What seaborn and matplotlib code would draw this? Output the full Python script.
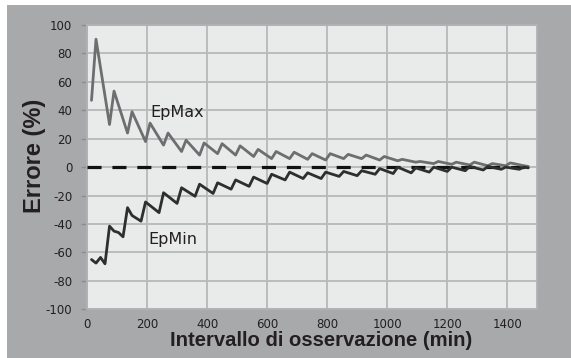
import matplotlib
matplotlib.use("Agg")
import matplotlib.pyplot as plt
from matplotlib import font_manager
from matplotlib.patches import Rectangle
import numpy as np
import pandas as pd
import seaborn as sns

# Observation interval (min) and percentage error of the upper estimate
epmax_x = [15, 30, 75, 90, 135, 150, 195, 210, 255, 270, 315, 330, 375, 390,
           435, 450, 495, 510, 555, 570, 615, 630, 675, 690, 735, 750, 795, 810,
           855, 870, 915, 930, 975, 990, 1035, 1050, 1095, 1110, 1155, 1170,
           1215, 1230, 1275, 1290, 1335, 1350, 1395, 1410, 1455, 1470]
epmax_y = [47, 90, 30, 53.5, 24, 39, 18, 31, 15.5, 24, 11, 19, 8.5, 17,
           9.5, 16.5, 8.5, 15, 7.5, 12.5, 6, 11, 6, 10.5, 5.5, 9.5, 5, 9.5,
           6, 9, 6, 8.5, 5, 7.5, 4.5, 5.5, 3.5, 4, 2.5, 4,
           2, 3.5, 1.5, 3.5, 1, 2.5, 1, 3, 1, 0.5]

# Percentage error of the lower estimate
epmin_x = [15, 30, 45, 60, 75, 90, 105, 120, 135, 150, 180, 195, 240, 255,
           300, 315, 360, 375, 420, 435, 480, 495, 540, 555, 600, 615, 660, 675,
           720, 735, 780, 795, 840, 855, 900, 915, 960, 975, 1020, 1035, 1080,
           1095, 1140, 1155, 1200, 1215, 1260, 1275, 1320, 1335, 1380, 1395,
           1440, 1455, 1470]
epmin_y = [-65, -67.5, -63.5, -68, -41.5, -45, -46, -49, -28.5, -34, -38, -24.5,
           -32, -18, -25.5, -14.5, -20.5, -12, -18.5, -11, -15.5, -9, -13.5, -7,
           -11.5, -5, -9, -3.5, -8, -4, -8, -3.5, -6.5, -3, -6, -2.5, -5, -1,
           -4.5, 0, -4, -0.5, -3.5, 0, -3, 0, -2.5, 0.5, -2, 0.5, -1.5, 0,
           -1.5, 0, -0.5]

# Zero reference line
zero_x = [0, 1470]
zero_y = [0, 0]

x_ticks = [0, 200, 400, 600, 800, 1000, 1200, 1400]
y_ticks = [-100, -80, -60, -40, -20, 0, 20, 40, 60, 80, 100]

sns.set_theme(style="white")

installed = {f.name for f in font_manager.fontManager.ttflist}
label_family = "Liberation Sans Narrow" if "Liberation Sans Narrow" in installed else "Liberation Sans"
plt.rcParams["font.family"] = ["DejaVu Sans"]
plt.rcParams["axes.unicode_minus"] = False

W, H = 571, 358
fig = plt.figure(figsize=(W / 100, H / 100), dpi=100, facecolor="white")
fig.patches.append(Rectangle((7 / W, 0), 1 - 7 / W, 1 - 5 / H, transform=fig.transFigure,
                             facecolor="#a7a9ab", edgecolor="none", zorder=-10))

ax = fig.add_axes([87 / W, 1 - 309.3 / H, (537.3 - 87) / W, (309.3 - 25) / H])
ax.set_facecolor("#e9eaea")

df = pd.concat([
    pd.DataFrame({"x": epmax_x, "y": epmax_y, "serie": "EpMax"}),
    pd.DataFrame({"x": epmin_x, "y": epmin_y, "serie": "EpMin"}),
])

sns.lineplot(data=pd.DataFrame({"x": zero_x, "y": zero_y}), x="x", y="y", ax=ax,
             color="#111111", lw=2.3, zorder=3, ls=(0, (4.4, 3.4)))
sns.lineplot(data=df, x="x", y="y", hue="serie", palette={"EpMax": "#6d6e70", "EpMin": "#2e2e2f"},
             ax=ax, lw=2.0, legend=False, zorder=4, estimator=None, sort=False)

ax.set_xlim(0, 1500)
ax.set_ylim(-100, 100)
ax.set_xticks(x_ticks)
ax.set_yticks(y_ticks)
ax.grid(True, color="#b6b8b9", lw=1.3)
ax.set_axisbelow(True)
for s in ax.spines.values():
    s.set_color("#b0b2b3")
    s.set_linewidth(1.3)

ax.tick_params(axis="y", length=4, width=1, color="#8c8e90", pad=6.5,
               labelsize=8.5, labelcolor="#231f20", left=True)
ax.tick_params(axis="x", length=0, pad=6.5, labelsize=8.5, labelcolor="#231f20")
ax.set_xlabel("")
ax.set_ylabel("")

ax.text(210, 38.7, "EpMax", fontsize=11.5, color="#231f20", va="center", ha="left")
ax.text(204, -50.6, "EpMin", fontsize=11.5, color="#231f20", va="center", ha="left")

fig.text(321 / W, 1 - 341 / H, "Intervallo di osservazione (min)", family=label_family,
         fontweight="bold", fontsize=14.6, color="#231f20", ha="center", va="center")
fig.text(35 / W, 1 - 156 / H, "Errore (%)", family=label_family, fontweight="bold",
         fontsize=17, color="#231f20", ha="center", va="center", rotation=90)

fig.savefig("out.png", dpi=100, facecolor="white")
